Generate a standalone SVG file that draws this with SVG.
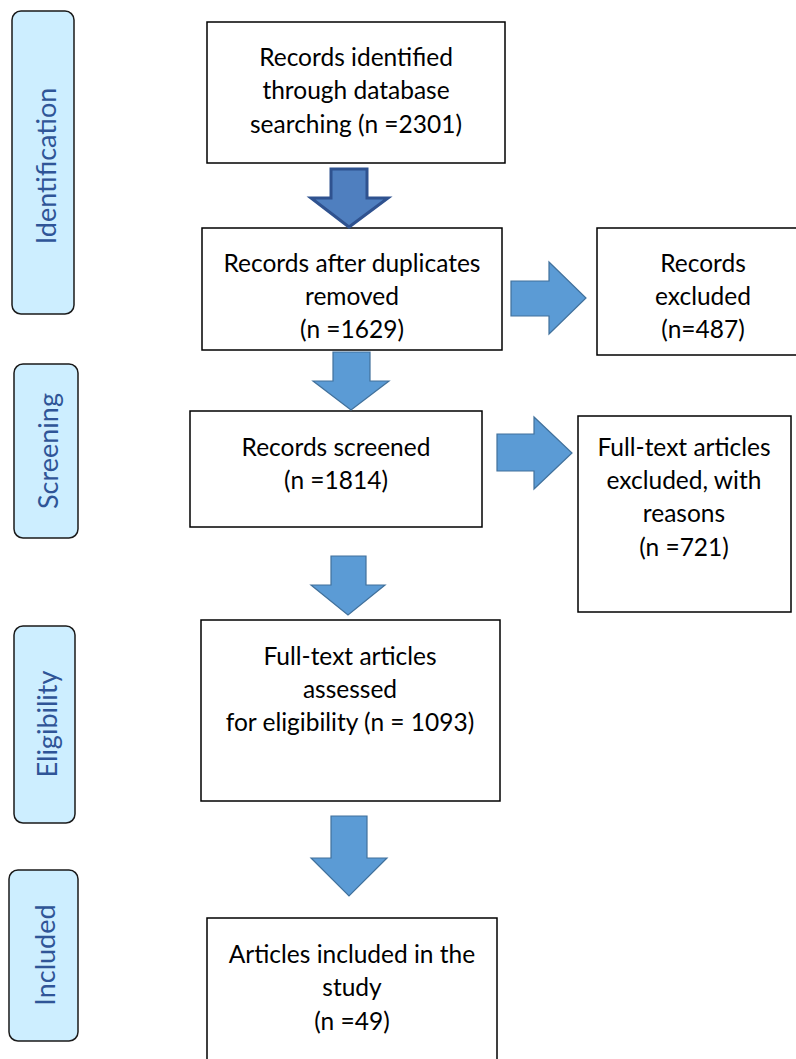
<svg xmlns="http://www.w3.org/2000/svg" width="796" height="1059" viewBox="0 0 796 1059">
<style>
.stage{fill:#cdeeff;stroke:#1a1a1a;stroke-width:1.5}
.stxt{font-family:Lato,"Open Sans",sans-serif;font-weight:400;font-size:27px;fill:#2f5597;text-anchor:middle;dominant-baseline:central}
.box{fill:#fff;stroke:#000;stroke-width:1.5}
.t{font-family:Lato,"Liberation Sans",sans-serif;font-size:24.5px;fill:#000;text-anchor:middle;dominant-baseline:central}
.arr{fill:#5b9bd5;stroke:#41719c;stroke-width:1.2}
.arrd{fill:#4f7fbf;stroke:#2f528f;stroke-width:3}
</style>
<rect width="796" height="1059" fill="#fff"/>
<g id="stage-identification"><rect class="stage" x="12" y="11" width="62" height="303" rx="9"/><text class="stxt" transform="translate(45,166) rotate(-90)">Identification</text></g>
<g id="stage-screening"><rect class="stage" x="14" y="364" width="64" height="174" rx="9"/><text class="stxt" transform="translate(47,451) rotate(-90)">Screening</text></g>
<g id="stage-eligibility"><rect class="stage" x="14" y="626" width="61" height="197" rx="9"/><text class="stxt" transform="translate(46,724) rotate(-90)">Eligibility</text></g>
<g id="stage-included"><rect class="stage" x="9" y="870" width="69" height="171" rx="9"/><text class="stxt" transform="translate(44,955) rotate(-90)">Included</text></g>

<g id="n1"><rect class="box" x="207" y="22" width="298" height="141"/><text class="t" x="356" y="56">Records identified</text><text class="t" x="356" y="89">through database</text><text class="t" x="356" y="123">searching (n =2301)</text></g>
<g id="n2"><rect class="box" x="202" y="228" width="300" height="122"/><text class="t" x="352" y="262">Records after duplicates</text><text class="t" x="352" y="295">removed</text><text class="t" x="352" y="328">(n =1629)</text></g>
<g id="n3"><rect class="box" x="597" y="228" width="205" height="127"/><text class="t" x="703" y="262">Records</text><text class="t" x="703" y="295">excluded</text><text class="t" x="703" y="328">(n=487)</text></g>
<g id="n4"><rect class="box" x="190" y="411" width="292" height="116"/><text class="t" x="336" y="446">Records screened</text><text class="t" x="336" y="479">(n =1814)</text></g>
<g id="n5"><rect class="box" x="578" y="416" width="213" height="196"/><text class="t" x="684" y="446">Full-text articles</text><text class="t" x="684" y="479">excluded, with</text><text class="t" x="684" y="512">reasons</text><text class="t" x="684" y="546">(n =721)</text></g>
<g id="n6"><rect class="box" x="201" y="620" width="299" height="181"/><text class="t" x="350" y="655">Full-text articles</text><text class="t" x="350" y="688">assessed</text><text class="t" x="350" y="721">for eligibility (n = 1093)</text></g>
<g id="n7"><rect class="box" x="207" y="918" width="290" height="150"/><text class="t" x="352" y="953">Articles included in the</text><text class="t" x="352" y="986">study</text><text class="t" x="352" y="1020">(n =49)</text></g>

<g id="connectors">
<polygon class="arrd" points="331,169 367,169 367,198 388,198 349,227 311,198 331,198"/>
<polygon class="arr" points="511,281 549,281 549,262 586,298 549,334 549,316 511,316"/>
<polygon class="arr" points="333,352 370,352 370,381 389,381 351,410 313,381 333,381"/>
<polygon class="arr" points="497,434 534,434 534,417 572,453 534,489 534,471 497,471"/>
<polygon class="arr" points="331,556 366,556 366,585 385,585 348,615 311,585 331,585"/>
<polygon class="arr" points="331,816 367,816 367,858 387,858 349,896 311,858 331,858"/>
</g>
</svg>
